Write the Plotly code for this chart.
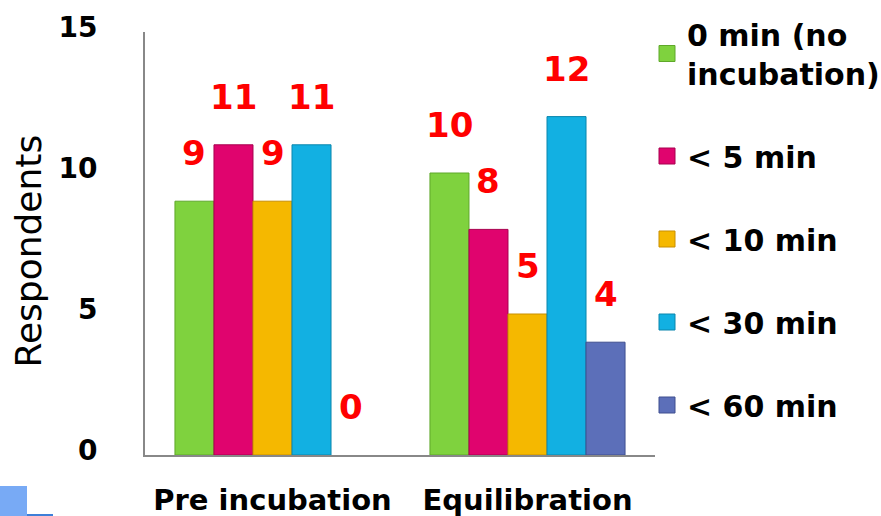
import plotly.graph_objects as go

categories = ["Pre incubation", "Equilibration"]
series_names = ["0 min (no<br>incubation)", "< 5 min", "< 10 min", "< 30 min", "< 60 min"]
values_0min = [9, 10]
values_5min = [11, 8]
values_10min = [9, 5]
values_30min = [11, 12]
values_60min = [0, 4]
y_ticks = [0, 5, 10, 15]
y_title = "Respondents"

series_values = [values_0min, values_5min, values_10min, values_30min, values_60min]
colors = ["#7fd23e", "#e0046e", "#f5b800", "#12b0e2", "#5c6fb9"]
edge_colors = ["#5fa82a", "#a8004f", "#c98f00", "#0a86ad", "#3f4f8f"]

fig = go.Figure()
for name, vals, c, ec in zip(series_names, series_values, colors, edge_colors):
    fig.add_trace(go.Bar(
        x=categories, y=vals, name=name,
        marker=dict(color=c, line=dict(color=ec, width=[1 if v > 0 else 0 for v in vals])),
        legendgroup=name, showlegend=False,
    ))
# legend entries with larger square swatches
for name, c, ec in zip(series_names, colors, edge_colors):
    fig.add_trace(go.Scatter(
        x=[None], y=[None], mode="markers", name=name, legendgroup=name,
        marker=dict(symbol="square", size=18, color=c, line=dict(color=ec, width=1)),
    ))

ML, MR, MT, MB = 145, 226, 32, 61
W, H = 881, 516
plot_w = W - ML - MR
plot_h = H - MT - MB
bargap = 0.235
bar_w = plot_w / len(categories) * (1 - bargap) / len(series_names)

annotations = []
for i, vals in enumerate(series_values):
    for cat, v in zip(categories, vals):
        annotations.append(dict(
            x=cat, y=v, text=str(v), showarrow=False,
            xshift=(i - (len(series_names) - 1) / 2) * bar_w, yshift=48,
            font=dict(family="DejaVu Sans", size=34, color="#ff0000", weight="bold"),
        ))

annotations.append(dict(
    xref="paper", yref="paper", x=(28 - ML) / plot_w, y=0.5, yshift=-8,
    xanchor="center", yanchor="middle", textangle=-90, showarrow=False,
    text=y_title, font=dict(family="DejaVu Sans", size=36, color="#000000"),
))

fig.update_layout(
    width=W, height=H,
    margin=dict(l=ML, r=MR, t=MT, b=MB, autoexpand=False),
    paper_bgcolor="white", plot_bgcolor="white",
    barmode="group", bargap=bargap, bargroupgap=0,
    showlegend=True,
    legend=dict(
        x=(647 - ML) / plot_w, xanchor="left", y=1 + 24 / plot_h, yanchor="top",
        font=dict(family="DejaVu Sans", size=30, color="#000000", weight="bold"),
        tracegroupgap=41, itemwidth=30, maxheight=600, itemsizing="trace",
        bgcolor="rgba(0,0,0,0)",
    ),
    xaxis=dict(
        showline=True, linecolor="#888888", linewidth=2,
        showgrid=False, ticks="", automargin=False,
        tickfont=dict(family="DejaVu Sans", size=29, color="#000000", weight="bold"),
        ticklabelstandoff=18,
    ),
    yaxis=dict(
        range=[0, 15], tickvals=y_ticks, automargin=False,
        showline=True, linecolor="#888888", linewidth=2,
        showgrid=False, zeroline=False, ticks="",
        tickfont=dict(family="DejaVu Sans", size=28, color="#000000", weight="bold"),
        ticklabelstandoff=40, ticklabelshift=-5,
    ),
    annotations=annotations,
    shapes=[
        dict(type="rect", xref="paper", yref="paper",
             x0=(0 - ML) / plot_w, x1=(27 - ML) / plot_w,
             y0=-(516 - 455) / plot_h, y1=-(486 - 455) / plot_h,
             fillcolor="#78aaf5", line=dict(width=0), layer="above"),
        dict(type="line", xref="paper", yref="paper",
             x0=(27 - ML) / plot_w, x1=(53 - ML) / plot_w,
             y0=-(515 - 455) / plot_h, y1=-(515 - 455) / plot_h,
             line=dict(color="#3d7fd8", width=2)),
    ],
)

fig.write_html("out.html")
